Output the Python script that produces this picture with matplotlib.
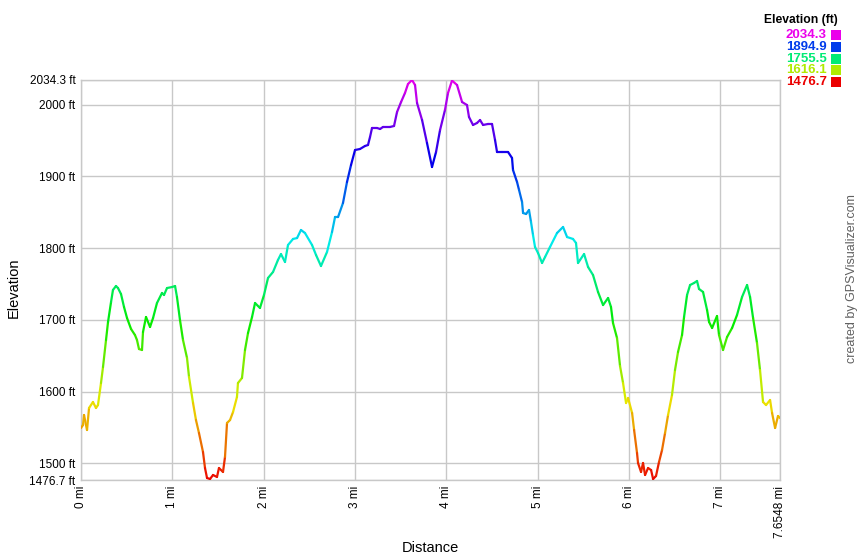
import numpy as np
import matplotlib
matplotlib.use("Agg")
import matplotlib.pyplot as plt
from matplotlib.collections import LineCollection
from matplotlib.colors import hsv_to_rgb
from matplotlib.patches import Rectangle

plt.rcParams['font.family'] = ['Liberation Sans', 'DejaVu Sans']

# profile
dist_mi = [0.000, 0.022, 0.033, 0.066, 0.088, 0.131, 0.164, 0.186, 0.219, 0.241,
           0.274, 0.296, 0.329, 0.350, 0.383, 0.405, 0.438, 0.471, 0.504, 0.548,
           0.591, 0.613, 0.635, 0.668, 0.679, 0.712, 0.756, 0.789, 0.832, 0.887,
           0.909, 0.942, 0.997, 1.030, 1.051, 1.084, 1.117, 1.161, 1.183, 1.227,
           1.259, 1.292, 1.336, 1.358, 1.380, 1.413, 1.446, 1.489, 1.511, 1.555,
           1.577, 1.599, 1.632, 1.665, 1.708, 1.719, 1.763, 1.796, 1.829, 1.873,
           1.906, 1.960, 2.004, 2.048, 2.103, 2.157, 2.190, 2.234, 2.267, 2.322,
           2.366, 2.409, 2.453, 2.530, 2.574, 2.628, 2.694, 2.749, 2.782, 2.815,
           2.869, 2.913, 2.957, 3.001, 3.055, 3.110, 3.143, 3.165, 3.187, 3.242,
           3.275, 3.307, 3.384, 3.428, 3.461, 3.505, 3.548, 3.581, 3.625, 3.658,
           3.680, 3.735, 3.789, 3.844, 3.888, 3.932, 3.986, 4.019, 4.063, 4.118,
           4.173, 4.227, 4.249, 4.293, 4.337, 4.370, 4.403, 4.458, 4.501, 4.534,
           4.556, 4.611, 4.677, 4.720, 4.731, 4.775, 4.797, 4.830, 4.841, 4.874,
           4.906, 4.928, 4.950, 4.972, 5.005, 5.049, 5.082, 5.136, 5.213, 5.279,
           5.323, 5.388, 5.421, 5.443, 5.465, 5.509, 5.553, 5.607, 5.662, 5.717,
           5.772, 5.804, 5.826, 5.870, 5.903, 5.936, 5.969, 5.991, 6.035, 6.057,
           6.089, 6.100, 6.133, 6.155, 6.177, 6.210, 6.243, 6.265, 6.297, 6.330,
           6.363, 6.396, 6.429, 6.472, 6.505, 6.538, 6.582, 6.604, 6.637, 6.670,
           6.713, 6.746, 6.768, 6.812, 6.856, 6.878, 6.911, 6.965, 6.987, 7.031,
           7.075, 7.130, 7.184, 7.239, 7.294, 7.327, 7.360, 7.403, 7.436, 7.469,
           7.502, 7.546, 7.568, 7.601, 7.633, 7.6548]
elev_ft = [1549.2, 1553.4, 1567.3, 1546.4, 1577.1, 1585.4, 1577.1, 1581.2, 1611.9, 1634.2,
           1671.9, 1697.0, 1724.8, 1741.6, 1747.1, 1744.3, 1736.0, 1717.9, 1702.5, 1687.2,
           1678.8, 1671.9, 1659.3, 1657.9, 1683.0, 1703.9, 1690.0, 1702.5, 1723.4, 1737.4,
           1734.6, 1744.3, 1745.7, 1747.1, 1731.8, 1699.7, 1671.9, 1646.8, 1620.3, 1584.0,
           1560.3, 1542.2, 1515.7, 1493.4, 1479.5, 1478.1, 1483.7, 1480.9, 1493.4, 1487.9,
           1508.8, 1556.2, 1560.3, 1571.5, 1592.4, 1611.9, 1618.9, 1657.9, 1681.6, 1703.9,
           1723.4, 1716.5, 1734.6, 1758.3, 1766.7, 1783.4, 1791.7, 1780.6, 1804.3, 1812.7,
           1814.0, 1825.2, 1821.0, 1804.3, 1790.3, 1775.0, 1794.5, 1822.4, 1843.3, 1843.3,
           1862.8, 1892.1, 1915.8, 1936.7, 1938.1, 1942.3, 1943.7, 1954.8, 1967.4, 1967.4,
           1966.0, 1968.8, 1968.8, 1970.2, 1989.7, 2003.6, 2016.2, 2028.7, 2034.3, 2027.3,
           2002.2, 1978.5, 1946.5, 1913.0, 1933.9, 1964.6, 1992.5, 2016.2, 2033.5, 2027.3,
           2003.6, 1999.4, 1982.7, 1971.6, 1974.4, 1978.5, 1971.6, 1973.0, 1973.0, 1950.7,
           1933.9, 1933.9, 1933.9, 1925.6, 1908.8, 1892.1, 1881.0, 1864.2, 1848.9, 1847.5,
           1853.1, 1836.4, 1818.2, 1801.5, 1793.1, 1779.2, 1787.6, 1801.5, 1821.0, 1829.4,
           1815.4, 1812.7, 1807.1, 1779.2, 1783.4, 1791.7, 1773.6, 1762.5, 1738.8, 1720.6,
           1730.4, 1717.9, 1695.6, 1674.6, 1635.6, 1611.9, 1584.0, 1591.0, 1570.1, 1546.4,
           1514.3, 1500.4, 1487.9, 1500.4, 1483.7, 1493.4, 1490.6, 1478.1, 1482.3, 1501.8,
           1518.5, 1542.2, 1567.3, 1595.2, 1630.0, 1655.1, 1678.8, 1703.9, 1734.6, 1748.5,
           1751.3, 1754.1, 1743.0, 1738.8, 1713.7, 1697.0, 1688.6, 1705.3, 1678.8, 1657.9,
           1676.0, 1688.6, 1706.7, 1731.8, 1748.5, 1731.8, 1702.5, 1667.7, 1630.0, 1585.4,
           1581.2, 1588.2, 1570.1, 1549.2, 1565.9, 1563.1]

elev_min, elev_max = 1476.7, 2034.3
total_mi = 7.6548
x_ticks = [0, 1, 2, 3, 4, 5, 6, 7, total_mi]
x_labels = ['0 mi', '1 mi', '2 mi', '3 mi', '4 mi', '5 mi', '6 mi', '7 mi', '7.6548 mi']
y_ticks = [elev_min, 1500, 1600, 1700, 1800, 1900, 2000, elev_max]
y_labels = ['1476.7 ft', '1500 ft', '1600 ft', '1700 ft', '1800 ft', '1900 ft', '2000 ft', '2034.3 ft']
legend_vals = [2034.3, 1894.9, 1755.5, 1616.1, 1476.7]


def elev_color(e):
    frac = (e - elev_min) / (elev_max - elev_min)
    return hsv_to_rgb([300.0 / 360.0 * frac, 1.0, 0.92])


fig = plt.figure(figsize=(8.6, 5.6), dpi=100)
ax = fig.add_axes([81 / 860, 80 / 560, 699 / 860, 400 / 560])

x = np.array(dist_mi)
y = np.array(elev_ft)
pts = np.column_stack([x, y]).reshape(-1, 1, 2)
segs = np.concatenate([pts[:-1], pts[1:]], axis=1)
cols = [elev_color((a + b) / 2) for a, b in zip(y[:-1], y[1:])]
lc = LineCollection(segs, colors=cols, linewidths=1.6, capstyle='round', zorder=3)
ax.add_collection(lc)

ax.set_xlim(0, total_mi)
ax.set_ylim(elev_min, elev_max)
ax.set_xticks(x_ticks)
ax.set_xticklabels(x_labels, rotation=90, fontsize=8.5)
ax.set_yticks(y_ticks)
ax.set_yticklabels(y_labels, fontsize=8.5)
ax.tick_params(length=0, pad=4, colors='#000000')
ax.grid(True, color='#c8c8c8', linewidth=1.0)
ax.set_axisbelow(True)
for s in ax.spines.values():
    s.set_color('#c8c8c8')
    s.set_linewidth(1.0)

fig.text(430 / 860, 1 - 548 / 560, 'Distance', ha='center', va='center', fontsize=10.5)
fig.text(14 / 860, 1 - 288 / 560, 'Elevation', ha='center', va='center', rotation=90, fontsize=10.5)
fig.text(852 / 860, 1 - 279 / 560, 'created by GPSVisualizer.com', ha='center', va='center',
         rotation=90, fontsize=9, color='#606060')

# legend on the top right
fig.text(838 / 860, 1 - 20 / 560, 'Elevation (ft)', ha='right', va='center',
         fontsize=8.7, fontweight='bold')
for i, v in enumerate(legend_vals):
    yc = 35 + i * 11.8
    c = elev_color(v)
    fig.text(827 / 860, 1 - yc / 560, f'{v:.1f}', ha='right', va='center',
             fontsize=9.5, fontweight='bold', color=c)
    fig.patches.append(Rectangle((831 / 860, 1 - (yc + 5) / 560), 10 / 860, 10 / 560,
                                 transform=fig.transFigure, facecolor=c, edgecolor='none'))

fig.savefig('out.png', dpi=100)
